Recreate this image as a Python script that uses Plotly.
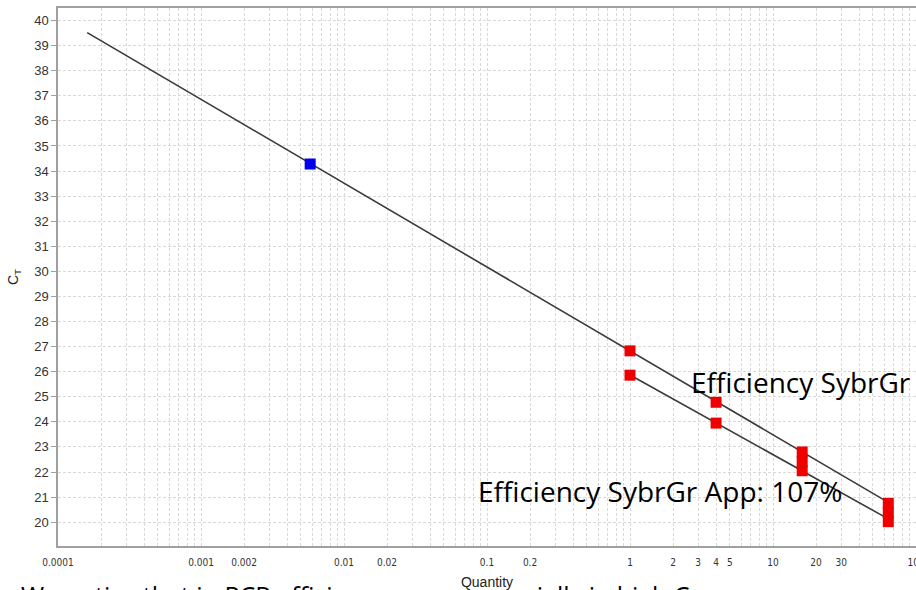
import plotly.graph_objects as go

# ---- data ----
blue_x = [0.0058]
blue_y = [34.28]

upper_x = [1, 4, 16, 16, 64, 64]
upper_y = [26.83, 24.78, 22.80, 22.42, 20.75, 20.38]

lower_x = [1, 4, 16, 64]
lower_y = [25.86, 23.95, 22.05, 20.02]

upper_line_x = [0.00016, 64]
upper_line_y = [39.52, 20.79]

lower_line_x = [1, 64]
lower_line_y = [25.87, 20.13]

x_labels = {0.0001: "0.0001", 0.001: "0.001", 0.002: "0.002", 0.01: "0.01", 0.02: "0.02",
            0.1: "0.1", 0.2: "0.2", 1: "1", 2: "2", 3: "3", 4: "4", 5: "5",
            10: "10", 20: "20", 30: "30", 100: "100"}

label_upper = "Efficiency SybrGr App: 99%"
label_lower = "Efficiency SybrGr App: 107%"
caption = "We notice that in PCR efficiency grows especially in high Cq"

# grid positions (every 1..9 per decade)
tickvals, ticktext = [], []
for d in range(-4, 2):
    for m in range(1, 10):
        v = round(m * 10 ** d, 6)
        tickvals.append(v)
        ticktext.append(x_labels.get(v, ""))
tickvals.append(100)
ticktext.append(x_labels[100])

fig = go.Figure()
line_style = dict(color="#3a3a3a", width=1.6)
fig.add_trace(go.Scatter(x=upper_line_x, y=upper_line_y, mode="lines", line=line_style, hoverinfo="skip"))
fig.add_trace(go.Scatter(x=lower_line_x, y=lower_line_y, mode="lines", line=line_style, hoverinfo="skip"))
fig.add_trace(go.Scatter(x=upper_x, y=upper_y, mode="markers",
                         marker=dict(symbol="square", size=11, color="#ee0000", line=dict(width=0))))
fig.add_trace(go.Scatter(x=lower_x, y=lower_y, mode="markers",
                         marker=dict(symbol="square", size=11, color="#ee0000", line=dict(width=0))))
fig.add_trace(go.Scatter(x=blue_x, y=blue_y, mode="markers",
                         marker=dict(symbol="square", size=11, color="#0000ee", line=dict(width=0))))

grid = "#d9d9d9"
fig.update_xaxes(type="log", range=[-4, 2], tickvals=tickvals, ticktext=ticktext, automargin=False,
                 showgrid=True, gridcolor=grid, griddash="3px,2px", gridwidth=1,
                 showline=True, linecolor="#a0a0a0", linewidth=1.5, mirror=True,
                 ticks="", zeroline=False, ticklabelstandoff=6, ticklabeloverflow="allow",
                 tickfont=dict(family="Liberation Sans Narrow, DejaVu Sans Condensed, Arial", size=10, color="#333"),
                 title=dict(text="Quantity", standoff=10,
                            font=dict(family="Liberation Sans Narrow, Liberation Sans, Arial", size=14, color="#222")))
fig.update_yaxes(range=[19.05, 40.5], dtick=1, tick0=20, automargin=False,
                 showgrid=True, gridcolor=grid, griddash="3px,2px", gridwidth=1,
                 showline=True, linecolor="#a0a0a0", linewidth=1.5,
                 ticks="outside", ticklen=5, tickcolor="#a0a0a0", zeroline=False,
                 tickfont=dict(family="Liberation Sans, Arial", size=13, color="#333"),
                 title=dict(text="C<sub>T</sub>", standoff=12,
                            font=dict(family="Liberation Sans, Arial", size=14, color="#222")))

fig.add_annotation(xref="paper", yref="paper", x=(689 - 58) / 858, y=(546 - 382) / 538,
                   xanchor="left", yanchor="middle", text=label_upper, showarrow=False,
                   font=dict(family="Open Sans", size=28, color="black"))
fig.add_annotation(xref="paper", yref="paper", x=(476 - 58) / 858, y=(546 - 491) / 538,
                   xanchor="left", yanchor="middle", text=label_lower, showarrow=False,
                   font=dict(family="Open Sans", size=28, color="black"))
fig.add_annotation(xref="paper", yref="paper", x=(19 - 58) / 858, y=(546 - 576) / 538,
                   xanchor="left", yanchor="top", text=caption, showarrow=False,
                   font=dict(family="Open Sans", size=25, color="black"))

fig.update_layout(width=916, height=590, margin=dict(l=58, r=0, t=8, b=44),
                  plot_bgcolor="white", paper_bgcolor="white", showlegend=False)

post = ("document.body.style.margin='0';"
        "document.documentElement.style.overflow='hidden';"
        "document.body.style.overflow='hidden';"
        "Plotly.relayout('{plot_id}', {width: 916, height: 590});")
fig.write_html("out.html", post_script=post, config={"displayModeBar": False})
